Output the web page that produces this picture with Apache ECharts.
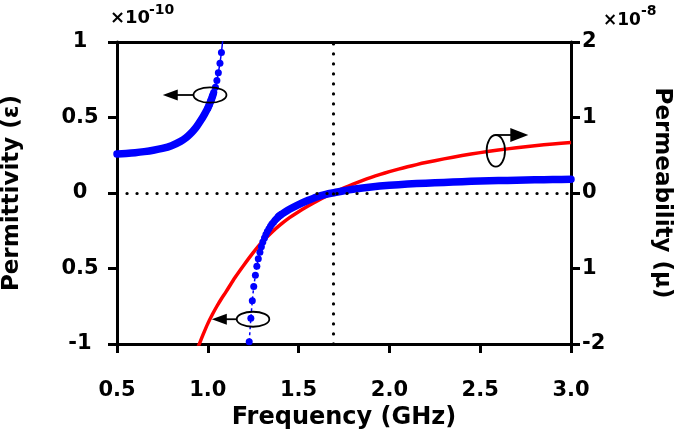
<!DOCTYPE html>
<html><head><meta charset="utf-8">
<script src="https://cdn.jsdelivr.net/npm/echarts@6/dist/echarts.min.js"></script>
<style>html,body{margin:0;padding:0;background:#fff}#c{width:675px;height:442px}</style>
</head><body><div id="c"></div>
<script>
// ---- tick labels (as printed in the figure) ----
const xTickLabels = ['0.5', '1.0', '1.5', '2.0', '2.5', '3.0'];
const leftTickLabels = ['-1', '0.5', '0', '0.5', '1'];
const rightTickLabels = ['-2', '1', '0', '1', '2'];
const leftExponent = '-10';
const rightExponent = '-8';

// ---- permeability mu (right axis, x1e-8) ----
const muF = [0.94, 0.95, 0.975, 1.00, 1.025, 1.05, 1.075, 1.10, 1.15, 1.20, 1.25, 1.30, 1.35, 1.40, 1.45, 1.50, 1.55, 1.60, 1.65, 1.70, 1.75, 1.80, 1.85, 1.90, 1.95, 2.00, 2.05, 2.10, 2.15, 2.20, 2.30, 2.40, 2.50, 2.60, 2.70, 2.80, 2.90, 3.00];
const muV = [-2.08, -2.02, -1.87, -1.73, -1.61, -1.50, -1.40, -1.31, -1.12, -0.95, -0.79, -0.645, -0.525, -0.42, -0.327, -0.247, -0.175, -0.108, -0.046, 0.012, 0.067, 0.118, 0.165, 0.208, 0.247, 0.283, 0.316, 0.347, 0.376, 0.403, 0.452, 0.496, 0.535, 0.569, 0.599, 0.626, 0.649, 0.668];

// ---- permittivity eps (left axis, x1e-10) ----
// below resonance: densely sampled part (dots merge into a band)
const epsLoBandF = [0.50, 0.55, 0.60, 0.65, 0.70, 0.75, 0.80, 0.85, 0.88, 0.90, 0.92, 0.94, 0.96, 0.98, 1.00, 1.01, 1.02, 1.03];
const epsLoBandV = [0.258, 0.262, 0.267, 0.274, 0.283, 0.295, 0.313, 0.342, 0.366, 0.387, 0.412, 0.442, 0.478, 0.518, 0.562, 0.590, 0.620, 0.655];
// below resonance: steep part where individual samples are visible
const epsLoDotF = [1.000, 1.008, 1.017, 1.025, 1.033, 1.042, 1.050, 1.058, 1.067, 1.075, 1.083, 1.092];
const epsLoDotV = [0.562, 0.585, 0.612, 0.640, 0.668, 0.700, 0.745, 0.797, 0.860, 0.930, 1.020, 1.130];
// above resonance: steep part
const epsHiDotF = [1.220, 1.228, 1.237, 1.245, 1.253, 1.262, 1.270, 1.278, 1.287, 1.295, 1.303, 1.312, 1.320, 1.328, 1.337, 1.345, 1.353, 1.362, 1.370, 1.378, 1.387, 1.395, 1.403];
const epsHiDotV = [-1.18, -0.985, -0.83, -0.713, -0.62, -0.545, -0.485, -0.435, -0.392, -0.356, -0.325, -0.298, -0.275, -0.255, -0.237, -0.221, -0.206, -0.193, -0.181, -0.170, -0.160, -0.151, -0.143];
// above resonance: band part
const epsHiBandF = [1.39, 1.42, 1.45, 1.50, 1.55, 1.60, 1.65, 1.70, 1.75, 1.80, 1.90, 2.00, 2.10, 2.20, 2.30, 2.40, 2.50, 2.60, 2.70, 2.80, 2.90, 3.00];
const epsHiBandV = [-0.155, -0.130, -0.108, -0.077, -0.050, -0.026, -0.009, 0.003, 0.015, 0.025, 0.040, 0.051, 0.059, 0.065, 0.070, 0.075, 0.079, 0.082, 0.085, 0.087, 0.089, 0.091];

// reference lines
const zeroLineEps = 0;
const crossFreq = 1.69;

const FONT = '"DejaVu Sans", "Liberation Sans", sans-serif';
const BLUE = '#0000ff', RED = '#ff0000';
const zip = (a, b) => a.map((x, i) => [x, b[i]]);
const chart = echarts.init(document.getElementById('c'), null, { renderer: 'canvas' });

const labelStyle = { color: '#000', fontFamily: FONT, fontWeight: 'bold', fontSize: 21 };
const nameStyle = { color: '#000', fontFamily: FONT, fontWeight: 'bold', fontSize: 23 };

const option = {
  animation: false,
  backgroundColor: '#fff',
  grid: { left: 117, right: 104, top: 42, bottom: 98, containLabel: false, outerBoundsMode: 'none' },
  xAxis: [{
    type: 'value', min: 0.5, max: 3.0, interval: 0.5, position: 'bottom',
    axisLine: { show: true, onZero: false, lineStyle: { color: '#000', width: 3 } },
    axisTick: { show: true, inside: false, length: 9, lineStyle: { color: '#000', width: 3 } },
    axisLabel: Object.assign({ margin: 36, formatter: v => xTickLabels[Math.round((v - 0.5) / 0.5)] }, labelStyle),
    splitLine: { show: false },
    name: 'Frequency (GHz)', nameLocation: 'middle', nameGap: 56, nameTextStyle: Object.assign({}, nameStyle, { fontSize: 24 })
  }, {
    type: 'value', min: 0.5, max: 3.0, interval: 0.5, position: 'top',
    axisLine: { show: true, onZero: false, lineStyle: { color: '#000', width: 3 } },
    axisTick: { show: false }, axisLabel: { show: false }, splitLine: { show: false }
  }],
  yAxis: [{
    type: 'value', min: -1, max: 1, interval: 0.5, position: 'left',
    axisLine: { show: true, onZero: false, lineStyle: { color: '#000', width: 3 } },
    axisTick: { show: true, inside: false, length: 9, lineStyle: { color: '#000', width: 3 } },
    axisLabel: Object.assign({ margin: 37, align: 'center', formatter: v => leftTickLabels[Math.round((v + 1) / 0.5)] }, labelStyle),
    splitLine: { show: false },
    name: 'Permittivity (\u03b5)', nameLocation: 'middle', nameRotate: 90, nameGap: 93, nameTextStyle: nameStyle
  }, {
    type: 'value', min: -2, max: 2, interval: 1, position: 'right',
    axisLine: { show: true, onZero: false, lineStyle: { color: '#000', width: 3 } },
    axisTick: { show: true, inside: false, length: 9, lineStyle: { color: '#000', width: 3 } },
    axisLabel: Object.assign({ margin: 11, align: 'left', formatter: v => rightTickLabels[Math.round((v + 2) / 1)] }, labelStyle),
    splitLine: { show: false },
    name: 'Permeability (\u03bc)', nameLocation: 'middle', nameRotate: -90, nameGap: 79, nameTextStyle: nameStyle
  }],
  series: [
    {
      name: 'mu', type: 'line', xAxisIndex: 0, yAxisIndex: 1, data: zip(muF, muV),
      showSymbol: false, smooth: 0.25, clip: true,
      lineStyle: { color: RED, width: 3.5, join: 'round' }, itemStyle: { color: RED }, z: 2
    },
    {
      name: 'epsLoBand', type: 'line', yAxisIndex: 0, data: zip(epsLoBandF, epsLoBandV),
      showSymbol: false, smooth: 0.25, clip: true,
      lineStyle: { color: BLUE, width: 7.5, cap: 'round', join: 'round' }, itemStyle: { color: BLUE }, z: 3
    },
    {
      name: 'epsLoDot', type: 'line', yAxisIndex: 0, data: zip(epsLoDotF, epsLoDotV),
      symbol: 'circle', symbolSize: 7, showSymbol: true, clip: true,
      lineStyle: { color: BLUE, width: 1.5 }, itemStyle: { color: BLUE }, z: 3
    },
    {
      name: 'epsHiDot', type: 'line', yAxisIndex: 0, data: zip(epsHiDotF, epsHiDotV),
      symbol: 'circle', symbolSize: 7, showSymbol: true, clip: true,
      lineStyle: { color: BLUE, width: 1.5, type: [3, 3] }, itemStyle: { color: BLUE }, z: 3
    },
    {
      name: 'epsHiBand', type: 'line', yAxisIndex: 0, data: zip(epsHiBandF, epsHiBandV),
      showSymbol: false, smooth: 0.25, clip: true,
      lineStyle: { color: BLUE, width: 7.5, cap: 'round', join: 'round' }, itemStyle: { color: BLUE }, z: 3,
      markLine: {
        silent: true, symbol: ['none', 'none'], label: { show: false },
        lineStyle: { color: '#000', width: 3.2, type: [0.1, 9.9], cap: 'round' },
        emphasis: { disabled: true },
        data: [{ yAxis: zeroLineEps }, { xAxis: crossFreq }]
      }
    }
  ]
};
chart.setOption(option);

// ---- annotations (ellipse + arrow pointing to the relevant axis) ----
const annots = [
  { axis: 0, center: [1.012, 0.649], rx: 16.5, ry: 7.7, dir: 'left', tipF: 0.752 },
  { axis: 0, center: [1.249, -0.836], rx: 16.3, ry: 7.5, dir: 'left', tipF: 1.022 },
  { axis: 1, center: [2.586, 0.559], rx: 9.2, ry: 15.8, dir: 'right', tipF: 2.765 }
];
const g = [];
annots.forEach(a => {
  const c = chart.convertToPixel({ xAxisIndex: 0, yAxisIndex: a.axis }, a.center);
  const tip = chart.convertToPixel({ xAxisIndex: 0, yAxisIndex: a.axis }, [a.tipF, a.center[1]]);
  g.push({ type: 'ellipse', shape: { cx: c[0], cy: c[1], rx: a.rx, ry: a.ry }, style: { fill: 'none', stroke: '#000', lineWidth: 1.8 }, z: 10 });
  if (a.dir === 'left') {
    const y = c[1], hl = 15, hh = 5.5;
    g.push({ type: 'line', shape: { x1: c[0] - a.rx, y1: y, x2: tip[0] + hl - 1, y2: y }, style: { stroke: '#000', lineWidth: 1.8 }, z: 10 });
    g.push({ type: 'polygon', shape: { points: [[tip[0], y], [tip[0] + hl, y - hh], [tip[0] + hl, y + hh]] }, style: { fill: '#000' }, z: 10 });
  } else {
    const y = c[1] - a.ry, hl = 18, hh = 7;
    g.push({ type: 'line', shape: { x1: c[0], y1: y, x2: tip[0] - hl + 1, y2: y }, style: { stroke: '#000', lineWidth: 1.8 }, z: 10 });
    g.push({ type: 'polygon', shape: { points: [[tip[0], y], [tip[0] - hl, y - hh], [tip[0] - hl, y + hh]] }, style: { fill: '#000' }, z: 10 });
  }
});
// exponent labels
g.push({ type: 'text', style: { x: 110, y: 27, text: '\u00d710', font: 'bold 18px ' + FONT, fill: '#000', verticalAlign: 'bottom' }, z: 10 });
g.push({ type: 'text', style: { x: 149, y: 17, text: leftExponent, font: 'bold 14px ' + FONT, fill: '#000', verticalAlign: 'bottom' }, z: 10 });
g.push({ type: 'text', style: { x: 603, y: 29, text: '\u00d710', font: 'bold 17px ' + FONT, fill: '#000', verticalAlign: 'bottom' }, z: 10 });
g.push({ type: 'text', style: { x: 641, y: 18, text: rightExponent, font: 'bold 14px ' + FONT, fill: '#000', verticalAlign: 'bottom' }, z: 10 });
chart.setOption({ graphic: g });
</script>
</body></html>
